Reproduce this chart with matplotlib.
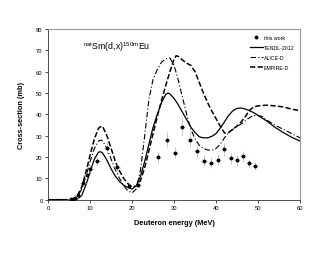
import numpy as np
import matplotlib
matplotlib.use("Agg")
import matplotlib.pyplot as plt

plt.rcParams["font.family"] = ["Liberation Sans", "DejaVu Sans"]
plt.rcParams["mathtext.fontset"] = "custom"
plt.rcParams["mathtext.rm"] = "Liberation Sans"

# Experimental points (this work)
exp_e = [5.4, 6.0, 6.5, 7.0, 8.4, 9.2, 10.0, 11.7, 14.1, 16.3, 19.3, 21.5,
         26.2, 28.2, 30.2, 32.0, 33.8, 35.5, 37.2, 38.8, 40.5, 41.9, 43.5,
         44.9, 46.4, 47.8, 49.3]
exp_xs = [0.2, 0.5, 0.9, 2.0, 7.8, 11.6, 14.4, 18.3, 24.4, 15.2, 6.6, 6.9,
          19.8, 28.2, 22.1, 34.3, 28.1, 22.6, 18.3, 17.4, 18.7, 23.6, 19.4,
          18.5, 20.3, 17.0, 15.8]
exp_dxs = [0.1, 0.1, 0.2, 0.3, 1.0, 1.5, 1.8, 2.0, 3.0, 2.0, 1.0, 1.0,
           2.5, 3.5, 2.5, 4.0, 3.5, 3.0, 2.5, 2.5, 2.5, 3.0, 2.5,
           2.5, 2.5, 2.3, 2.0]
exp_de = [0.8, 0.8, 0.8, 0.8, 0.8, 0.8, 0.8, 0.8, 0.8, 0.8, 0.7, 0.7,
          0.7, 0.7, 0.7, 0.7, 0.7, 0.7, 0.7, 0.7, 0.7, 0.7, 0.7,
          0.7, 0.7, 0.7, 0.7]

# TENDL-2012
tendl_e = [0, 6, 7, 8, 9, 10, 11, 12, 12.5, 13, 14, 15, 16, 17, 18, 19, 20,
           21, 22, 23, 24, 25, 26, 27, 28, 28.5, 29, 30, 31, 32, 33, 34, 35,
           36, 37, 38, 39, 40, 41, 42, 43, 44, 45, 46, 47, 48, 49, 50, 52,
           54, 56, 58, 60]
tendl_xs = [0, 0, 0.3, 2, 7, 13, 19, 22.3, 22.5, 21.8, 18.5, 14.5, 11, 8.5,
            6.8, 5.7, 5.0, 6.5, 11, 18, 26, 34, 40, 45.5, 49.3, 50, 49.6,
            47.5, 44.5, 41, 37.5, 34, 31.5, 29.5, 29, 29, 29.7, 31, 33.5,
            36.5, 39.5, 41.7, 42.8, 43, 42.5, 41.7, 40.8, 39.5, 37, 34,
            31.5, 29.3, 27.5]

# ALICE-D
alice_e = [0, 5.5, 6, 7, 8, 9, 10, 11, 12, 12.5, 13, 14, 15, 16, 17, 18, 19,
           20, 21, 22, 23, 24, 25, 26, 27, 28, 29, 30, 31, 32, 33, 34, 35,
           36, 37, 38, 39, 40, 41, 42, 43, 44, 45, 46, 47, 48, 49, 50, 51,
           52, 54, 56, 58, 60]
alice_xs = [0, 0, 0.3, 1.5, 5, 11, 18, 24, 27.5, 28, 27.5, 24, 19, 14, 10,
            6.5, 4.2, 3.2, 5, 14, 30, 47, 56.5, 61, 64.5, 66, 66.5, 63, 56,
            48, 40, 33, 28.5, 25.5, 24, 23.3, 23.2, 24, 26, 29, 31.5, 33,
            34.5, 35.5, 37, 38.5, 39.5, 39.5, 39, 37.5, 35, 33, 31, 29]

# EMPIRE-D
empire_e = [0, 5, 6, 7, 8, 9, 10, 11, 12, 12.7, 13, 14, 15, 16, 17, 18, 19,
            20, 21, 22, 23, 24, 25, 26, 27, 28, 29, 30, 30.5, 31, 32, 33, 34,
            35, 36, 37, 38, 39, 40, 41, 42, 43, 44, 45, 46, 47, 48, 49, 50,
            52, 54, 56, 58, 60]
empire_xs = [0, 0, 0.3, 2, 6, 13, 21, 28.5, 33.5, 34.5, 34.2, 30, 24, 18,
             13.5, 10, 7.5, 6, 6.5, 9, 15, 23, 31, 39, 46.5, 53.5, 60, 66,
             67.5, 67.2, 65.5, 64, 63, 60, 55, 50, 45.5, 41.5, 38, 34.5, 31.3,
             31.5, 33, 34.5, 36.5, 39, 42, 43.5, 44, 44.3, 44, 43.5, 42.5,
             41.7]

fig = plt.figure(figsize=(3.3, 2.55), dpi=100)
ax = fig.add_axes([0.146, 0.213, 0.763, 0.669])

ax.errorbar(exp_e, exp_xs, yerr=exp_dxs, xerr=exp_de, fmt="none",
            ecolor="#b0b0b0", elinewidth=0.5, capsize=0, zorder=4)
pts, = ax.plot(exp_e, exp_xs, "o", ms=1.8, color="black", zorder=5,
               label="this work")
l1, = ax.plot(tendl_e, tendl_xs, color="black", lw=0.9, label="TENDL-2012")
l2, = ax.plot(alice_e, alice_xs, color="black", lw=0.8, dashes=[5, 2, 1, 2],
              label="ALICE-D")
l3, = ax.plot(empire_e, empire_xs, color="black", lw=1.1, dashes=[3.5, 1.5],
              label="EMPIRE-D")

ax.set_xlim(0, 60)
ax.set_ylim(0, 80)
ax.set_xticks(range(0, 61, 10))
ax.set_yticks(range(0, 81, 10))
ax.tick_params(labelsize=4.2, length=2, width=0.5, pad=2)

for side in ["top", "right"]:
    ax.spines[side].set_color("#999999")
    ax.spines[side].set_linewidth(0.8)
for side in ["left", "bottom"]:
    ax.spines[side].set_color("#333333")
    ax.spines[side].set_linewidth(0.6)

ax.set_xlabel("Deuteron energy (MeV)", fontsize=5.3, fontweight="bold",
              labelpad=6)
ax.set_ylabel("Cross-section (mb)", fontsize=5.3, fontweight="bold",
              labelpad=8)

ax.text(8.2, 72, r"$^{\mathrm{nat}}$Sm(d,x)$^{\mathrm{150m}}$Eu", fontsize=6.3,
        va="center", ha="left")

ax.legend(handles=[pts, l1, l2, l3], loc="upper right",
          bbox_to_anchor=(0.99, 0.985), fontsize=3.8, frameon=False,
          handlelength=2.4, labelspacing=0.95, handletextpad=0.2,
          borderaxespad=0.2)

fig.savefig("out.png", dpi=100)
